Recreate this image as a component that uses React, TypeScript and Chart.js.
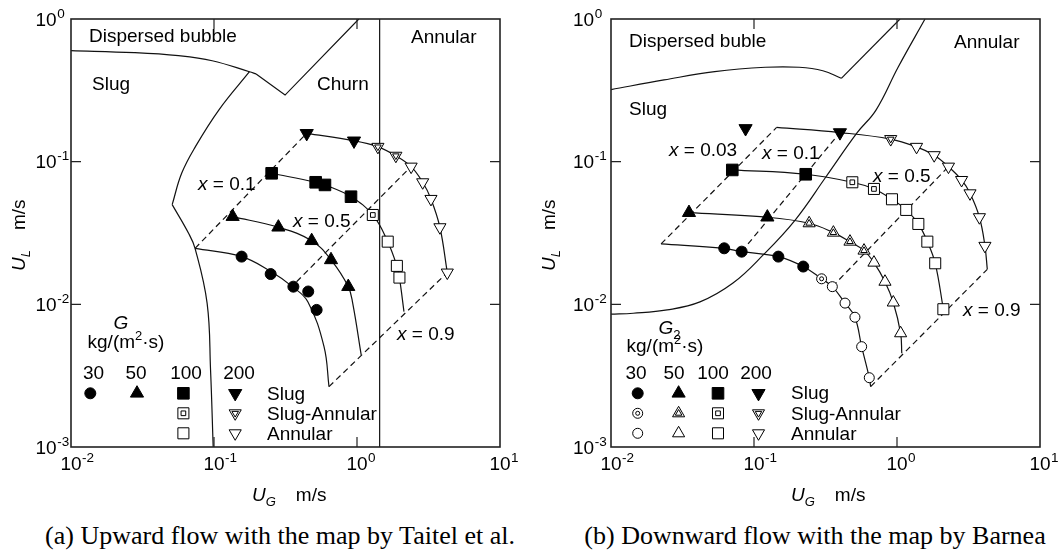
import React, { useEffect, useRef } from "react";
import { Chart, registerables } from "chart.js";

Chart.register(...registerables);

type Pt = [number, number];

// ---------------- Panel (a): upward flow, map by Taitel et al. ----------------
const aG30Slug: Pt[] = [[0.156, 0.0216], [0.249, 0.0163], [0.359, 0.0133], [0.456, 0.0123], [0.522, 0.00914]];
const aG30Line: Pt[] = [[0.0737, 0.0247], [0.156, 0.0216], [0.247, 0.0171], [0.357, 0.0132], [0.454, 0.0104], [0.588, 0.00505], [0.637, 0.00265]];
const aG50Slug: Pt[] = [[0.135, 0.0412], [0.282, 0.0347], [0.482, 0.0279], [0.658, 0.0205], [0.869, 0.0133]];
const aG50Tail: Pt[] = [[0.933, 0.0102], [1.07, 0.00442]];
const aG100Slug: Pt[] = [[0.253, 0.0829], [0.514, 0.0717], [0.597, 0.0687], [0.908, 0.0568]];
const aG100SlugAnnular: Pt[] = [[1.29, 0.0423]];
const aG100Annular: Pt[] = [[1.64, 0.0275], [1.9, 0.0186], [1.98, 0.0154]];
const aG100Tail: Pt[] = [[2.13, 0.00889]];
const aG200Slug: Pt[] = [[0.445, 0.158], [0.953, 0.14]];
const aG200SlugAnnular: Pt[] = [[1.4, 0.127], [1.87, 0.11]];
const aG200Annular: Pt[] = [[2.39, 0.0923], [2.88, 0.0717], [3.29, 0.0548], [3.8, 0.0347], [4.28, 0.0167]];
const aX01: Pt[] = [[0.0737, 0.0247], [0.445, 0.158]];
const aX05: Pt[] = [[0.378, 0.0144], [2.35, 0.091]];
const aX09: Pt[] = [[0.637, 0.00265], [4.28, 0.0167]];
const aMapBubble: Pt[] = [[0.01, 0.6], [0.0277, 0.581], [0.0564, 0.553], [0.0971, 0.51], [0.177, 0.427], [0.197, 0.412]];
const aMapChurn: Pt[] = [[0.197, 0.412], [0.314, 0.293], [1.03, 1.0]];
const aMapSlugUpper: Pt[] = [[0.177, 0.427], [0.108, 0.23], [0.074, 0.127], [0.0594, 0.0829], [0.051, 0.05]];
const aMapSlugLower: Pt[] = [[0.051, 0.05], [0.0664, 0.0315], [0.0737, 0.0247], [0.0895, 0.0102], [0.0946, 0.00347], [0.0987, 0.001]];
const aMapAnnular: Pt[] = [[1.44, 0.001], [1.44, 1]];

// ---------------- Panel (b): downward flow, map by Barnea ----------------
const bG30Slug: Pt[] = [[0.0619, 0.0247], [0.082, 0.0234], [0.148, 0.0216], [0.221, 0.0184]];
const bG30SlugAnnular: Pt[] = [[0.297, 0.0151]];
const bG30Annular: Pt[] = [[0.353, 0.0133], [0.433, 0.0102], [0.508, 0.00812], [0.566, 0.00505], [0.64, 0.00306]];
const bG30Head: Pt[] = [[0.0224, 0.0265]];
const bG30Tail: Pt[] = [[0.654, 0.00265]];
const bG50Slug: Pt[] = [[0.0351, 0.0439], [0.124, 0.0408]];
const bG50SlugAnnular: Pt[] = [[0.243, 0.037], [0.359, 0.0318], [0.469, 0.0275], [0.588, 0.0238]];
const bG50Annular: Pt[] = [[0.69, 0.0196], [0.824, 0.0144], [0.942, 0.0103], [1.06, 0.00627]];
const bG50Tail: Pt[] = [[1.08, 0.00454]];
const bG100Slug: Pt[] = [[0.0705, 0.0875], [0.23, 0.0816]];
const bG100SlugAnnular: Pt[] = [[0.487, 0.0717], [0.69, 0.0644]];
const bG100Annular: Pt[] = [[0.922, 0.0545], [1.16, 0.0459], [1.41, 0.0366], [1.63, 0.0275], [1.85, 0.0194], [2.11, 0.00924]];
const bG200Slug: Pt[] = [[0.0873, 0.171], [0.399, 0.16]];
const bG200SlugAnnular: Pt[] = [[0.904, 0.144]];
const bG200Annular: Pt[] = [[1.37, 0.127], [1.82, 0.111], [2.29, 0.0923], [2.83, 0.0744], [3.24, 0.06], [3.77, 0.0408], [4.12, 0.0257]];
const bG200Head: Pt[] = [[0.144, 0.174]];
const bG200Tail: Pt[] = [[4.28, 0.0176]];
const bX003: Pt[] = [[0.0224, 0.0265], [0.144, 0.174]];
const bX01: Pt[] = [[0.082, 0.0234], [0.399, 0.16]];
const bX05: Pt[] = [[0.353, 0.0133], [2.29, 0.0923]];
const bX09: Pt[] = [[0.654, 0.00265], [4.28, 0.0176]];
const bMapBubble: Pt[] = [[0.01, 0.32], [0.0235, 0.374], [0.0531, 0.428], [0.12, 0.459], [0.207, 0.459], [0.303, 0.434], [0.408, 0.384]];
const bMapBubbleAnnular: Pt[] = [[0.408, 0.384], [1.05, 1.0]];
const bMapAnnular: Pt[] = [[1.57, 1.0], [1.02, 0.461], [0.713, 0.23], [0.525, 0.159], [0.318, 0.0781], [0.194, 0.039], [0.116, 0.0222], [0.0713, 0.0141], [0.0419, 0.0104], [0.0247, 0.00914], [0.0143, 0.00866], [0.01, 0.00853]];

// ---------------- Axes / legend text ----------------
const xTickValues = [0.01, 0.1, 1, 10];
const xTickExp = ["-2", "-1", "0", "1"];
const yTickValues = [0.001, 0.01, 0.1, 1];
const yTickExp = ["-3", "-2", "-1", "0"];
const xInnerTicks = [0.1, 1];
const yInnerTicks = [0.01, 0.1];
const legendG = ["30", "50", "100", "200"];
const legendRegimes = ["Slug", "Slug-Annular", "Annular"];

// ---------------- helpers ----------------
const SANS = '"Liberation Sans", Arial, Helvetica, sans-serif';
const FS = 19;
const INK = "#111";

type Run = { t: string; it?: boolean; sz?: number; dy?: number; dx?: number };
type TextItem = { runs: Run[]; x: number; y: number; align?: "left" | "center" };

const pts = (a: Pt[]) => a.map(([x, y]) => ({ x, y }));

type Shape = { style: string; rot: number; rFill: number; rOpen: number; rIn: number };
const SH: Shape[] = [
  { style: "circle", rot: 0, rFill: 5.5, rOpen: 5, rIn: 2 },
  { style: "triangle", rot: 0, rFill: 7.6, rOpen: 7, rIn: 3.8 },
  { style: "rect", rot: 0, rFill: 8.2, rOpen: 7.8, rIn: 3.3 },
  { style: "triangle", rot: 180, rFill: 7.6, rOpen: 7, rIn: 3.8 },
];

function markers(sh: Shape, data: Pt[], kind: number): any[] {
  if (!data.length) return [];
  const base = {
    showLine: false,
    pointStyle: sh.style,
    pointRotation: sh.rot,
    pointBorderColor: "#000",
    pointBorderWidth: 1,
    pointHoverRadius: 0,
    borderColor: "#000",
  };
  if (kind === 0)
    return [{ ...base, data: pts(data), pointRadius: sh.rFill, pointBackgroundColor: "#000", order: 1 }];
  if (kind === 2)
    return [{ ...base, data: pts(data), pointRadius: sh.rOpen, pointBackgroundColor: "#fff", order: 1 }];
  return [
    { ...base, data: pts(data), pointRadius: sh.rIn, pointBackgroundColor: "#fff", order: 0 },
    { ...base, data: pts(data), pointRadius: sh.rOpen, pointBackgroundColor: "#fff", order: 1 },
  ];
}

function curve(data: Pt[], opts: { dashed?: boolean; tension?: number; order?: number } = {}) {
  return {
    data: pts(data),
    showLine: true,
    borderColor: INK,
    borderWidth: 1.2,
    borderDash: opts.dashed ? [6, 4] : [],
    tension: opts.tension ?? 0.4,
    pointRadius: 0,
    pointHoverRadius: 0,
    fill: false,
    order: opts.order ?? 2,
  };
}

const font = (sz: number, it?: boolean) => `${it ? "italic " : ""}${sz}px ${SANS}`;

function runsWidth(ctx: CanvasRenderingContext2D, runs: Run[]) {
  let w = 0;
  for (const r of runs) {
    ctx.font = font(r.sz ?? FS, r.it);
    w += ctx.measureText(r.t).width + (r.dx ?? 0);
  }
  return w;
}

function drawRuns(ctx: CanvasRenderingContext2D, runs: Run[], x: number, y: number, align = "left") {
  let cx = align === "center" ? x - runsWidth(ctx, runs) / 2 : x;
  ctx.fillStyle = "#000";
  ctx.textAlign = "left";
  ctx.textBaseline = "alphabetic";
  for (const r of runs) {
    ctx.font = font(r.sz ?? FS, r.it);
    cx += r.dx ?? 0;
    ctx.fillText(r.t, cx, y + (r.dy ?? 0));
    cx += ctx.measureText(r.t).width;
  }
}

function drawMarker(ctx: CanvasRenderingContext2D, sh: Shape, r: number, x: number, y: number, fill: string) {
  ctx.beginPath();
  if (sh.style === "circle") ctx.arc(x, y, r, 0, Math.PI * 2);
  else if (sh.style === "rect") {
    const s = Math.SQRT1_2 * r;
    ctx.rect(x - s, y - s, 2 * s, 2 * s);
  } else {
    let a = (sh.rot * Math.PI) / 180;
    ctx.moveTo(x + Math.sin(a) * r, y - Math.cos(a) * r);
    a += (2 * Math.PI) / 3;
    ctx.lineTo(x + Math.sin(a) * r, y - Math.cos(a) * r);
    a += (2 * Math.PI) / 3;
    ctx.lineTo(x + Math.sin(a) * r, y - Math.cos(a) * r);
    ctx.closePath();
  }
  ctx.fillStyle = fill;
  ctx.fill();
  ctx.strokeStyle = "#000";
  ctx.lineWidth = 1;
  ctx.stroke();
}

type Spec = {
  key: string;
  offset: number;
  cw: number;
  padding: { left: number; right: number; top: number; bottom: number };
  yLabGap: number;
  datasets: any[];
  texts: TextItem[];
  legend: { colX: number[]; rowY: number[]; avail: number[][]; headX: number[]; headY: number; regX: number; regY: number[] };
  xTitle: { x: number; y: number };
  yTitle: { x: number; y: number };
};

const xLabel = (v: string): Run[] => [{ t: "x", it: true }, { t: " = " + v }];
const unitRuns: Run[] = [{ t: "kg/(m" }, { t: "2", sz: 13, dy: -8 }, { t: "·s)" }];
const xTitleRuns: Run[] = [{ t: "U", it: true }, { t: "G", it: true, sz: 13, dy: 5 }, { t: "m/s", dx: 20 }];
const yTitleRuns: Run[] = [{ t: "U", it: true }, { t: "L", it: true, sz: 13, dy: 5 }, { t: "m/s", dx: 20 }];

function framePlugin(spec: Spec) {
  return {
    id: "frame_" + spec.key,
    afterDraw(chart: any) {
      const ctx: CanvasRenderingContext2D = chart.ctx;
      const a = chart.chartArea;
      const xs = chart.scales.x;
      const ys = chart.scales.y;
      ctx.save();
      ctx.strokeStyle = "#222";
      ctx.lineWidth = 1.6;
      ctx.strokeRect(a.left, a.top, a.right - a.left, a.bottom - a.top);
      ctx.lineWidth = 1.2;
      ctx.beginPath();
      const T = 10;
      for (const v of xInnerTicks) {
        const px = xs.getPixelForValue(v);
        ctx.moveTo(px, a.bottom);
        ctx.lineTo(px, a.bottom - T);
        ctx.moveTo(px, a.top);
        ctx.lineTo(px, a.top + T);
      }
      for (const v of yInnerTicks) {
        const py = ys.getPixelForValue(v);
        ctx.moveTo(a.left, py);
        ctx.lineTo(a.left + T, py);
        ctx.moveTo(a.right, py);
        ctx.lineTo(a.right - T, py);
      }
      ctx.stroke();

      ctx.fillStyle = "#000";
      ctx.textBaseline = "alphabetic";
      // x tick labels
      xTickValues.forEach((v, i) => {
        const px = xs.getPixelForValue(v);
        ctx.font = font(FS);
        const w = ctx.measureText("10").width;
        ctx.textAlign = "left";
        ctx.fillText("10", px - w / 2, a.bottom + 23);
        ctx.font = font(13.5);
        ctx.fillText(xTickExp[i], px + w / 2 + 0.5, a.bottom + 14.5);
      });
      // y tick labels
      yTickValues.forEach((v, i) => {
        const py = ys.getPixelForValue(v);
        ctx.font = font(FS);
        const w = ctx.measureText("10").width;
        ctx.textAlign = "left";
        const lx = a.left - spec.yLabGap;
        ctx.fillText("10", lx, py + 6.5);
        ctx.font = font(13.5);
        ctx.fillText(yTickExp[i], lx + w + 0.5, py - 1.5);
      });

      ctx.translate(-spec.offset, 0);
      for (const t of spec.texts) drawRuns(ctx, t.runs, t.x, t.y, t.align ?? "left");
      // legend
      const L = spec.legend;
      legendG.forEach((g, i) => {
        drawRuns(ctx, [{ t: g }], L.headX[i], L.headY, "center");
        for (let k = 0; k < 3; k++) {
          if (!L.avail[i][k]) continue;
          const sh = SH[i];
          const x = L.colX[i];
          const y = L.rowY[k];
          if (k === 0) drawMarker(ctx, sh, sh.rFill, x, y, "#000");
          else if (k === 1) {
            drawMarker(ctx, sh, sh.rOpen, x, y, "#fff");
            drawMarker(ctx, sh, sh.rIn, x, y, "#fff");
          } else drawMarker(ctx, sh, sh.rOpen, x, y, "#fff");
        }
      });
      legendRegimes.forEach((r, k) => drawRuns(ctx, [{ t: r }], L.regX, L.regY[k]));
      // axis titles
      drawRuns(ctx, xTitleRuns, spec.xTitle.x, spec.xTitle.y);
      ctx.save();
      ctx.translate(spec.yTitle.x, spec.yTitle.y);
      ctx.rotate(-Math.PI / 2);
      drawRuns(ctx, yTitleRuns, 0, 0);
      ctx.restore();
      ctx.restore();
    },
  };
}

const specA: Spec = {
  key: "a",
  offset: 0,
  cw: 530,
  padding: { left: 71, right: 30, top: 19, bottom: 68 },
  yLabGap: 35.5,
  datasets: [
    ...markers(SH[0], aG30Slug, 0),
    ...markers(SH[1], aG50Slug, 0),
    ...markers(SH[2], aG100Slug, 0),
    ...markers(SH[2], aG100SlugAnnular, 1),
    ...markers(SH[2], aG100Annular, 2),
    ...markers(SH[3], aG200Slug, 0),
    ...markers(SH[3], aG200SlugAnnular, 1),
    ...markers(SH[3], aG200Annular, 2),
    curve(aG30Line),
    curve([...aG50Slug, ...aG50Tail]),
    curve([...aG100Slug, ...aG100SlugAnnular, ...aG100Annular, ...aG100Tail]),
    curve([...aG200Slug, ...aG200SlugAnnular, ...aG200Annular]),
    curve(aX01, { dashed: true, tension: 0, order: 3 }),
    curve(aX05, { dashed: true, tension: 0, order: 3 }),
    curve(aX09, { dashed: true, tension: 0, order: 3 }),
    curve(aMapBubble, { tension: 0.4, order: 4 }),
    curve(aMapChurn, { tension: 0, order: 4 }),
    curve(aMapSlugUpper, { tension: 0.4, order: 4 }),
    curve(aMapSlugLower, { tension: 0.4, order: 4 }),
    curve(aMapAnnular, { tension: 0, order: 4 }),
  ],
  texts: [
    { runs: [{ t: "Dispersed bubble" }], x: 89, y: 42 },
    { runs: [{ t: "Slug" }], x: 92, y: 90 },
    { runs: [{ t: "Churn" }], x: 317, y: 90 },
    { runs: [{ t: "Annular" }], x: 411, y: 43 },
    { runs: xLabel("0.1"), x: 198, y: 190 },
    { runs: xLabel("0.5"), x: 293, y: 227 },
    { runs: xLabel("0.9"), x: 397, y: 340 },
    { runs: [{ t: "G", it: true }], x: 121, y: 328.5, align: "center" },
    { runs: unitRuns, x: 126, y: 348, align: "center" },
  ],
  legend: {
    colX: [90.3, 137, 183.4, 235.2],
    rowY: [393.3, 413.3, 433.3],
    avail: [[1, 0, 0], [1, 0, 0], [1, 1, 1], [1, 1, 1]],
    headX: [93.6, 136, 186, 239],
    headY: 379,
    regX: 267,
    regY: [400, 420, 440],
  },
  xTitle: { x: 252, y: 501 },
  yTitle: { x: 25, y: 271 },
};

const specB: Spec = {
  key: "b",
  offset: 530,
  cw: 529,
  padding: { left: 81, right: 19, top: 19, bottom: 68 },
  yLabGap: 38,
  datasets: [
    ...markers(SH[0], bG30Slug, 0),
    ...markers(SH[0], bG30SlugAnnular, 1),
    ...markers(SH[0], bG30Annular, 2),
    ...markers(SH[1], bG50Slug, 0),
    ...markers(SH[1], bG50SlugAnnular, 1),
    ...markers(SH[1], bG50Annular, 2),
    ...markers(SH[2], bG100Slug, 0),
    ...markers(SH[2], bG100SlugAnnular, 1),
    ...markers(SH[2], bG100Annular, 2),
    ...markers(SH[3], bG200Slug, 0),
    ...markers(SH[3], bG200SlugAnnular, 1),
    ...markers(SH[3], bG200Annular, 2),
    curve([...bG30Head, ...bG30Slug, ...bG30SlugAnnular, ...bG30Annular, ...bG30Tail]),
    curve([...bG50Slug, ...bG50SlugAnnular, ...bG50Annular, ...bG50Tail]),
    curve([...bG100Slug, ...bG100SlugAnnular, ...bG100Annular]),
    curve([...bG200Head, ...bG200Slug.slice(1), ...bG200SlugAnnular, ...bG200Annular, ...bG200Tail]),
    curve(bX003, { dashed: true, tension: 0, order: 3 }),
    curve(bX01, { dashed: true, tension: 0, order: 3 }),
    curve(bX05, { dashed: true, tension: 0, order: 3 }),
    curve(bX09, { dashed: true, tension: 0, order: 3 }),
    curve(bMapBubble, { tension: 0.4, order: 4 }),
    curve(bMapBubbleAnnular, { tension: 0, order: 4 }),
    curve(bMapAnnular, { tension: 0.4, order: 4 }),
  ],
  texts: [
    { runs: [{ t: "Dispersed buble" }], x: 629, y: 47 },
    { runs: [{ t: "Annular" }], x: 954, y: 48 },
    { runs: [{ t: "Slug" }], x: 629, y: 115 },
    { runs: xLabel("0.03"), x: 669, y: 156 },
    { runs: xLabel("0.1"), x: 762, y: 158.5 },
    { runs: xLabel("0.5"), x: 873, y: 181.7 },
    { runs: xLabel("0.9"), x: 963, y: 316 },
    { runs: [{ t: "G", it: true }, { t: "2", sz: 13, dy: 5 }], x: 669.5, y: 333.5, align: "center" },
    { runs: unitRuns, x: 665, y: 352, align: "center" },
  ],
  legend: {
    colX: [637.7, 678.6, 718, 758.5],
    rowY: [393.3, 413.3, 433.3],
    avail: [[1, 1, 1], [1, 1, 1], [1, 1, 1], [1, 1, 1]],
    headX: [636, 674, 713, 756],
    headY: 379,
    regX: 791,
    regY: [399, 420, 440],
  },
  xTitle: { x: 791, y: 501 },
  yTitle: { x: 555, y: 271 },
};

function Panel({ spec }: { spec: Spec }) {
  const ref = useRef<HTMLCanvasElement>(null);
  useEffect(() => {
    const chart = new Chart(ref.current as HTMLCanvasElement, {
      type: "line",
      data: { datasets: spec.datasets },
      options: {
        animation: false,
        responsive: false,
        maintainAspectRatio: false,
        events: [],
        layout: { padding: spec.padding },
        plugins: { legend: { display: false }, tooltip: { enabled: false } },
        scales: {
          x: { type: "logarithmic", min: 0.01, max: 10, display: false },
          y: { type: "logarithmic", min: 0.001, max: 1, display: false },
        },
      } as any,
      plugins: [framePlugin(spec)],
    } as any);
    return () => chart.destroy();
  }, [spec]);
  return (
    <canvas
      ref={ref}
      width={spec.cw}
      height={515}
      style={{ position: "absolute", left: spec.offset, top: 0, width: spec.cw, height: 515, display: "block" }}
    />
  );
}

const captionStyle: React.CSSProperties = {
  position: "absolute",
  top: 523,
  width: 600,
  textAlign: "center",
  whiteSpace: "nowrap",
  font: '26px "Liberation Serif", "Times New Roman", serif',
  lineHeight: "26px",
  color: "#000",
};

export default function App() {
  return (
    <div style={{ position: "absolute", left: 0, top: 0, width: 1059, height: 553, background: "#fff", overflow: "hidden" }}>
      <Panel spec={specA} />
      <Panel spec={specB} />
      <div style={{ ...captionStyle, left: 280 - 300 }}>(a) Upward flow with the map by Taitel et al.</div>
      <div style={{ ...captionStyle, left: 815 - 300 }}>(b) Downward flow with the map by Barnea</div>
    </div>
  );
}
